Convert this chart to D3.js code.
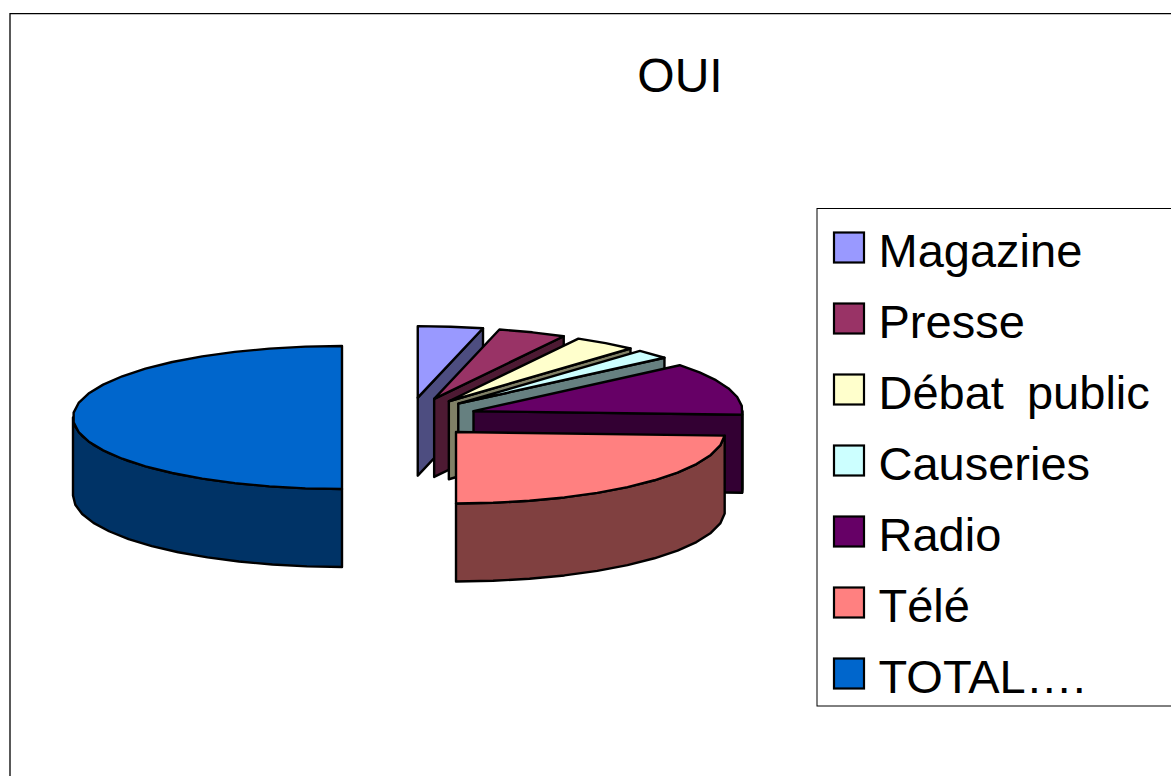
<!DOCTYPE html>
<html>
<head>
<meta charset="utf-8">
<title>OUI</title>
<script src="https://cdn.jsdelivr.net/npm/d3@7"></script>
<style>
  html, body { margin: 0; padding: 0; background: #fff; overflow: hidden; }
  svg { display: block; }
  text { font-family: "Liberation Sans", Arial, sans-serif; fill: #000; }
</style>
</head>
<body>
<div id="chart"></div>
<script>
// values, in percent of the whole pie
const categories = ["Magazine", "Presse", "Débat public", "Causeries", "Radio", "Télé", "TOTAL…."];
const values = [3.9, 4.1, 3.8, 2.1, 11.9, 24.2, 50];
const topColors = ["#9999ff", "#993366", "#ffffcc", "#ccffff", "#660066", "#ff8080", "#0066cc"];
const sideColors = ["#4d4d80", "#4d1a33", "#808066", "#668080", "#330033", "#804040", "#003366"];

const width = 1171, height = 776;
const rad = Math.PI / 180;

const svg = d3.select("#chart").append("svg")
  .attr("width", width)
  .attr("height", height);

// chart frame, runs off the page right and bottom
svg.append("path")
  .attr("d", "M10," + (height + 2) + "V13.6H" + (width + 2))
  .attr("fill", "none")
  .attr("stroke", "#000")
  .attr("stroke-width", 1.3);

svg.append("text")
  .attr("x", 680)
  .attr("y", 92)
  .attr("text-anchor", "middle")
  .attr("font-size", 48)
  .text("OUI");

// pie projection: unit circle -> flattened ellipse
const rx = 269, ry = 71.5, depth = 78;
const baseX = 409.5, baseY = 417.5, explode = 67.5, explodeY = 20;
const xUnit = d3.scaleLinear().domain([-1, 1]).range([-rx, rx]);
const yUnit = d3.scaleLinear().domain([-1, 1]).range([-ry, ry]);

const pie = d3.pie().sort(null)(values);
const line = d3.line();
const arcStep = 8 * rad; // coarse on purpose, the original outline is not smooth

function arcPoints(s, e, cx, cy, drop) {
  const pts = [];
  const n = Math.max(1, Math.ceil((e - s) / arcStep));
  for (let i = 0; i <= n; i++) {
    const a = s + (e - s) * i / n;
    pts.push([cx + xUnit(Math.sin(a)), cy + yUnit(-Math.cos(a)) + drop]);
  }
  return pts;
}

const slices = svg.append("g")
  .attr("stroke", "#000")
  .attr("stroke-width", 2.4)
  .attr("stroke-linejoin", "round");

pie.forEach((d, i) => {
  const s = d.startAngle, e = d.endAngle, mid = (s + e) / 2;
  const cx = baseX + explode * Math.sin(mid);
  const cy = baseY - explodeY * Math.cos(mid);
  const g = slices.append("g");

  // radial wall at the end of the slice when it faces us
  if (e < Math.PI - 0.01) {
    const p = arcPoints(e, e, cx, cy, 0)[0];
    g.append("path")
      .attr("d", line([[cx, cy], p, [p[0], p[1] + depth], [cx, cy + depth]]) + "Z")
      .attr("fill", sideColors[i]);
  }

  // rim, only the front half of the ellipse
  const rimS = Math.max(s, 90 * rad), rimE = Math.min(e, 270 * rad);
  if (rimE > rimS) {
    const upper = arcPoints(rimS, rimE, cx, cy, 0);
    const lower = arcPoints(rimS, rimE, cx, cy, depth).reverse();
    g.append("path")
      .attr("d", line(upper.concat(lower)) + "Z")
      .attr("fill", sideColors[i]);
  }

  // top face
  g.append("path")
    .attr("d", line([[cx, cy]].concat(arcPoints(s, e, cx, cy, 0))) + "Z")
    .attr("fill", topColors[i]);
});

// legend
const legend = svg.append("g");
legend.append("rect")
  .attr("x", 817)
  .attr("y", 208.5)
  .attr("width", 400)
  .attr("height", 497.5)
  .attr("fill", "#fff")
  .attr("stroke", "#000")
  .attr("stroke-width", 1);

const legendY = d3.scalePoint().domain(categories).range([248, 674]);

const rows = legend.selectAll("g.row")
  .data(categories)
  .join("g")
  .attr("class", "row")
  .attr("transform", d => "translate(0," + legendY(d) + ")");

rows.append("rect")
  .attr("x", 834)
  .attr("y", -15.5)
  .attr("width", 30)
  .attr("height", 30)
  .attr("fill", (d, i) => topColors[i])
  .attr("stroke", "#000")
  .attr("stroke-width", 2.2);

rows.append("text")
  .attr("x", 878.5)
  .attr("y", 19)
  .attr("font-size", 47)
  .attr("word-spacing", 10)
  .text(d => d);
</script>
</body>
</html>
